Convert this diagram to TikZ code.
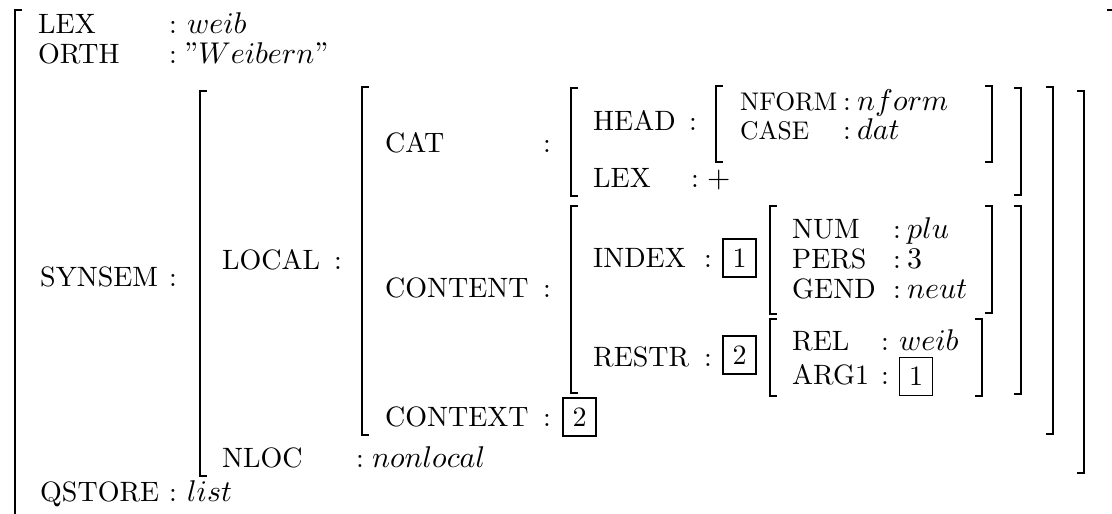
\documentclass[tikz,border=0pt]{standalone}
\usepackage{fontspec}
\DeclareFontShape{OML}{cmm}{m}{it}{<->cmmi10}{}
\DeclareFontShape{OT1}{cmr}{m}{n}{<->cmr10}{}
\newfontfamily\avmfont{lmroman10-regular.otf}
\newcommand\avmsize{\fontsize{28}{34}\selectfont}
\newcommand\avmsmall{\fontsize{25.5}{30}\selectfont}
\newcommand\valsize{\fontsize{30}{36}\selectfont}
\tikzset{
  lbl/.style={anchor=base west, inner sep=0pt, font=\avmfont\avmsize},
  slbl/.style={anchor=base west, inner sep=0pt, font=\avmfont\avmsmall},
  val/.style={anchor=base west, inner sep=0pt, font=\avmfont\valsize},
  col/.style={anchor=base, inner sep=0pt, font=\avmfont\avmsize},
  tag/.style={draw, line width=1.5pt, inner sep=0pt, minimum width=33pt, minimum height=38pt, font=\avmfont\avmsize},
  br/.style={line width=1.6pt}
}
\newcommand\lbr[3]{\draw[br] (#1+7,#2) -- (#1,#2) -- (#1,#3) -- (#1+7,#3);}
\newcommand\rbr[3]{\draw[br] (#1-7,#2) -- (#1,#2) -- (#1,#3) -- (#1-7,#3);}
\begin{document}
\begin{tikzpicture}[x=1pt,y=-1pt]
\useasboundingbox (0,0) rectangle (1112,514);
% outer brackets
\draw[br] (22,10) -- (15,10) -- (15,520);
\draw[br] (1107,10) -- (1114,10) -- (1114,520);
% level 1
\node[lbl] (lex) at (38,33) {LEX};
\node[col] (lexc) at (173,33) {:};
\node[val] (lexv) at (187,33) {$weib$};
\node[lbl] (orth) at (38,63) {ORTH};
\node[col] (orthc) at (173,63) {:};
\node[val] (orthv) at (184,63) {”$Weibern$”};
\node[lbl] (synsem) at (40,286) {SYNSEM};
\node[col] (synsemc) at (173,286) {:};
\node[lbl] (qstore) at (40,501) {QSTORE};
\node[col] (qstorec) at (173,501) {:};
\node[val] (qstorev) at (187,501) {$list$};
% SYNSEM value
\lbr{200}{91}{476}
\rbr{1084}{91}{473}
\node[lbl] (local) at (222,269) {LOCAL};
\node[col] (localc) at (338,269) {:};
\node[lbl] (nloc) at (222,467) {NLOC};
\node[col] (nlocc) at (360,467) {:};
\node[val] (nlocv) at (372,467) {$nonlocal$};
% LOCAL value
\lbr{362}{87}{435}
\rbr{1053}{87}{434}
\node[lbl] (cat) at (385,152) {CAT};
\node[col] (catc) at (547,152) {:};
\node[lbl] (content) at (385,297) {CONTENT};
\node[col] (contentc) at (547,297) {:};
\node[lbl] (context) at (385,426) {CONTEXT};
\node[col] (contextc) at (547,426) {:};
\node[tag] (contextv) at (579.5,417) {2};
% CAT value
\lbr{571}{88}{196}
\rbr{1021}{88}{195}
\node[lbl] (head) at (593,130) {HEAD};
\node[col] (headc) at (693,130) {:};
\node[lbl] (lex2) at (593,187) {LEX};
\node[col] (lex2c) at (695,187) {:};
\node[val] (lex2v) at (707,187) {$+$};
% HEAD value
\lbr{716}{86}{162}
\rbr{992}{86}{162}
\node[slbl] (nform) at (740,110) {NFORM};
\node[col] (nformc) at (847,110) {:};
\node[val] (nformv) at (857,110) {$nform$};
\node[slbl] (case) at (740,139) {CASE};
\node[col] (casec) at (847,139) {:};
\node[val] (casev) at (857,139) {$dat$};
% CONTENT value
\lbr{571}{206}{393}
\rbr{1021}{206}{394}
\node[lbl] (index) at (593,267) {INDEX};
\node[col] (indexc) at (708,267) {:};
\node[tag] (indexv) at (739.5,258) {1};
\node[lbl] (restr) at (593,366) {RESTR};
\node[col] (restrc) at (708,366) {:};
\node[tag] (restrv) at (739.5,355) {2};
% INDEX value
\lbr{770}{206}{314}
\rbr{992}{206}{313}
\node[lbl] (num) at (792,238) {NUM};
\node[col] (numc) at (897,238) {:};
\node[val] (numv) at (907,238) {$plu$};
\node[lbl] (pers) at (792,268) {PERS};
\node[col] (persc) at (897,268) {:};
\node[val] (persv) at (907,268) {3};
\node[lbl] (gend) at (792,298) {GEND};
\node[col] (gendc) at (897,298) {:};
\node[val] (gendv) at (907,298) {$neut$};
% RESTR value
\lbr{770}{319}{396}
\rbr{982}{319}{396}
\node[lbl] (rel) at (792,350) {REL};
\node[col] (relc) at (885,350) {:};
\node[val] (relv) at (899,350) {$weib$};
\node[lbl] (arg) at (792,384) {ARG1};
\node[col] (argc) at (885,384) {:};
\node[tag] (argv) at (916,376.5) {1};
\end{tikzpicture}
\end{document}
